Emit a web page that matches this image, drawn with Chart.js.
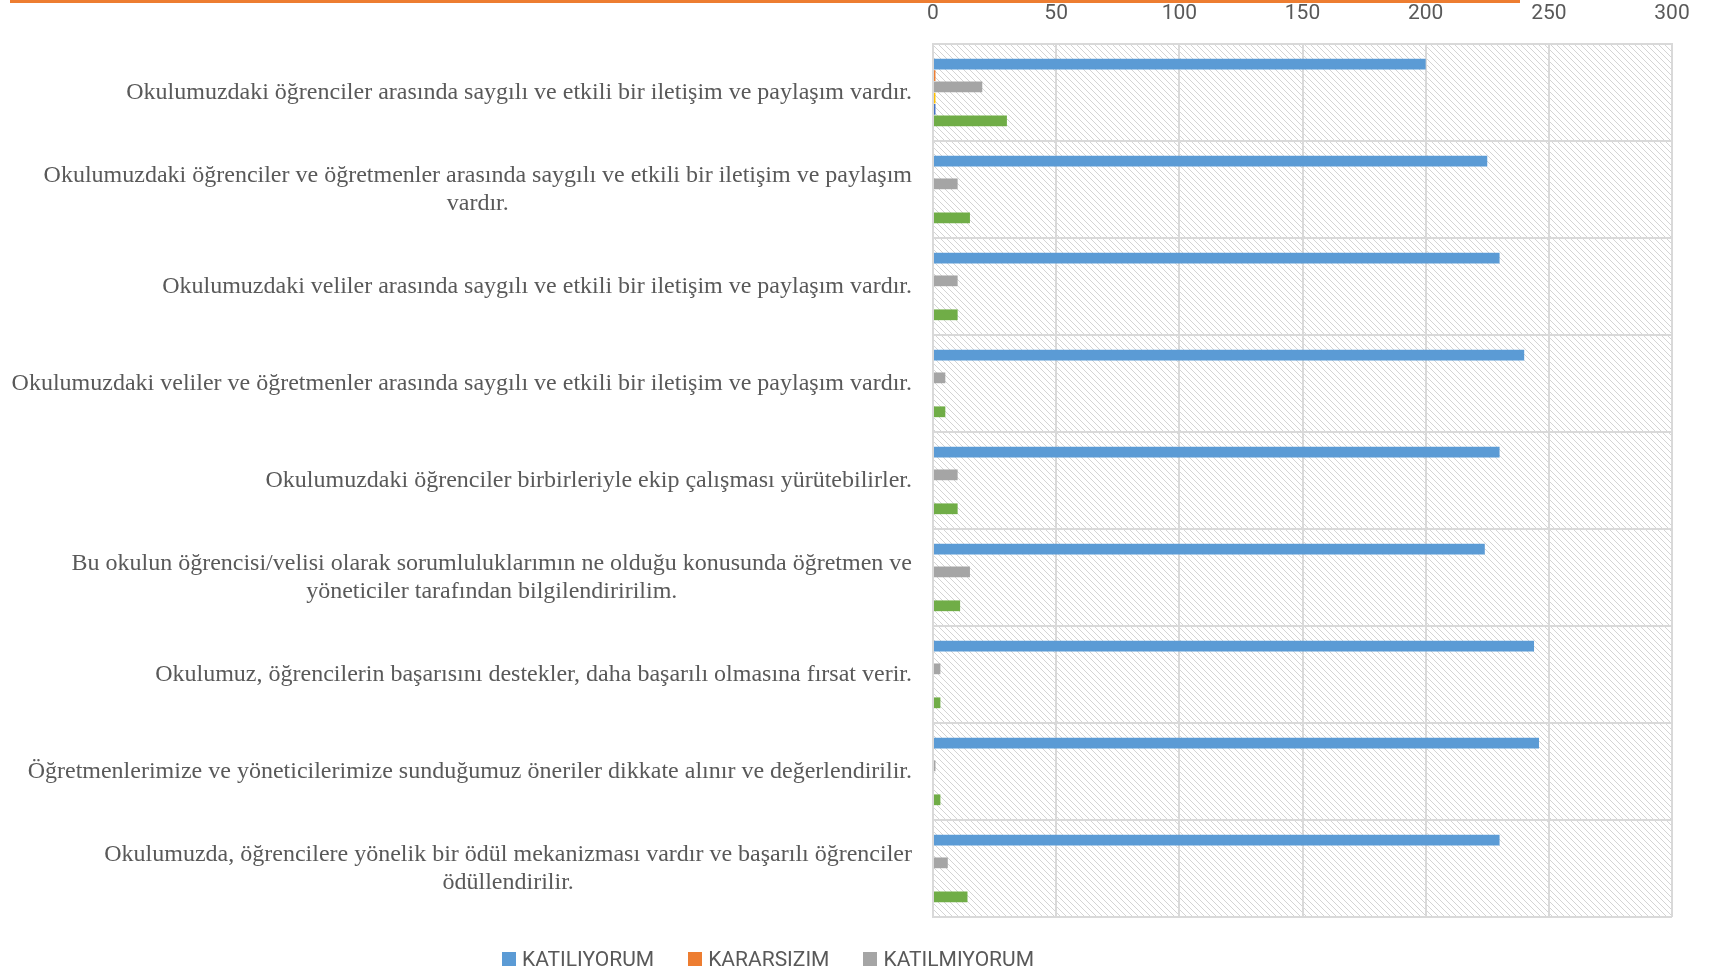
<!DOCTYPE html>
<html>
<head>
<meta charset="utf-8">
<script src="https://cdn.jsdelivr.net/npm/chart.js@4.4.1/dist/chart.umd.min.js"></script>
<style>
  html, body { margin: 0; padding: 0; background: #fff; }
  #wrap { position: relative; width: 1718px; height: 973px; }
  #topLine { position: absolute; left: 10px; top: 0; width: 1510px; height: 3px; background: #ED7D31; }
  #legend { position: absolute; left: 502px; top: 947px; display: flex; font-family: Roboto, sans-serif; font-size: 21px; color: #595959; }
  #legend .item { display: flex; align-items: center; margin-right: 34px; }
  #legend .box { width: 14px; height: 14px; margin-right: 6px; }
</style>
</head>
<body>
<div id="wrap">
  <canvas id="grafik" width="1718" height="973"></canvas>
  <div id="topLine"></div>
  <div id="legend"></div>
</div>
<script>
// maddeler (yukaridan asagiya)
const maddeler = [
  'Okulumuzdaki öğrenciler arasında saygılı ve etkili bir iletişim ve paylaşım vardır.',
  ['Okulumuzdaki öğrenciler ve öğretmenler arasında saygılı ve etkili bir iletişim ve paylaşım', 'vardır.'],
  'Okulumuzdaki veliler arasında saygılı ve etkili bir iletişim ve paylaşım vardır.',
  'Okulumuzdaki veliler ve öğretmenler arasında saygılı ve etkili bir iletişim ve paylaşım vardır.',
  'Okulumuzdaki öğrenciler birbirleriyle ekip çalışması yürütebilirler.',
  ['Bu okulun öğrencisi/velisi olarak sorumluluklarımın ne olduğu konusunda öğretmen ve', 'yöneticiler tarafından bilgilendiririlim.'],
  'Okulumuz, öğrencilerin başarısını destekler, daha başarılı olmasına fırsat verir.',
  'Öğretmenlerimize ve yöneticilerimize sunduğumuz öneriler dikkate alınır ve değerlendirilir.',
  ['Okulumuzda, öğrencilere yönelik bir ödül mekanizması vardır ve başarılı öğrenciler', 'ödüllendirilir.']
];

const katiliyorum   = [200, 225, 230, 240, 230, 224, 244, 246, 230];
const kararsizim    = [1, 0, 0, 0, 0, 0, 0, 0, 0];
const katilmiyorum  = [20, 10, 10, 5, 10, 15, 3, 1, 6];
const seri4         = [1, 0, 0, 0, 0, 0, 0, 0, 0];
const seri5         = [1, 0, 0, 0, 0, 0, 0, 0, 0];
const seri6         = [30, 15, 10, 5, 10, 11, 3, 3, 14];

const eksenMin = 0;
const eksenMax = 300;
const eksenAdim = 50;

const seriler = [
  { ad: 'KATILIYORUM',  veri: katiliyorum,  renk: '#5B9BD5', lejant: true },
  { ad: 'KARARSIZIM',   veri: kararsizim,   renk: '#ED7D31', lejant: true },
  { ad: 'KATILMIYORUM', veri: katilmiyorum, renk: '#A5A5A5', lejant: true },
  { ad: 'Seri 4',       veri: seri4,        renk: '#FFC000', lejant: false },
  { ad: 'Seri 5',       veri: seri5,        renk: '#4472C4', lejant: false },
  { ad: 'Seri 6',       veri: seri6,        renk: '#70AD47', lejant: false }
];

// lejant (html)
const lejantKutusu = document.getElementById('legend');
seriler.filter(s => s.lejant).forEach(s => {
  const el = document.createElement('div');
  el.className = 'item';
  el.innerHTML = '<span class="box" style="background:' + s.renk + '"></span><span>' + s.ad + '</span>';
  lejantKutusu.appendChild(el);
});

// tarali arka plan
function taramaDeseni(ctx) {
  const s = 6;
  const c = document.createElement('canvas');
  c.width = s; c.height = s;
  const g = c.getContext('2d');
  g.fillStyle = '#ffffff';
  g.fillRect(0, 0, s, s);
  g.strokeStyle = '#d4d4d4';
  g.lineWidth = 1;
  g.beginPath();
  g.moveTo(0, 0); g.lineTo(s, s);
  g.moveTo(-1, s - 1); g.lineTo(1, s + 1);
  g.moveTo(s - 1, -1); g.lineTo(s + 1, 1);
  g.stroke();
  return ctx.createPattern(c, 'repeat');
}

const arkaPlanPlugin = {
  id: 'arkaPlan',
  beforeDraw(chart) {
    const { ctx, chartArea: a } = chart;
    ctx.save();
    ctx.fillStyle = taramaDeseni(ctx);
    ctx.fillRect(a.left, a.top, a.right - a.left, a.bottom - a.top);
    ctx.restore();
  }
};

// kategori etiketleri: saga yasli, cok satirlilar kendi icinde ortali
const etiketPlugin = {
  id: 'etiketler',
  afterDraw(chart) {
    const { ctx, chartArea: a } = chart;
    const yScale = chart.scales.y;
    const sagKenar = a.left - 21;
    const satirYuksekligi = 28.5;
    ctx.save();
    ctx.font = '24px "Liberation Serif", "Times New Roman", serif';
    ctx.fillStyle = '#595959';
    ctx.textBaseline = 'middle';
    ctx.textAlign = 'center';
    maddeler.forEach((m, i) => {
      const satirlar = Array.isArray(m) ? m : [m];
      const genislik = Math.max(...satirlar.map(t => ctx.measureText(t).width));
      const cx = sagKenar - genislik / 2;
      const y0 = yScale.getPixelForValue(i) - (satirlar.length - 1) * satirYuksekligi / 2;
      satirlar.forEach((t, j) => ctx.fillText(t, cx, y0 + j * satirYuksekligi));
    });
    ctx.restore();
  }
};

const ctx = document.getElementById('grafik').getContext('2d');
new Chart(ctx, {
  type: 'bar',
  data: {
    labels: maddeler,
    datasets: seriler.map(s => ({
      label: s.ad,
      data: s.veri,
      backgroundColor: s.renk,
      borderWidth: 0,
      categoryPercentage: 0.7,
      barPercentage: 0.95
    }))
  },
  options: {
    indexAxis: 'y',
    responsive: false,
    animation: false,
    layout: { padding: { top: 0, right: 46, bottom: 56, left: 0 } },
    scales: {
      x: {
        position: 'top',
        min: eksenMin,
        max: eksenMax,
        afterFit: s => { s.height = 44; },
        ticks: {
          stepSize: eksenAdim,
          padding: 18,
          color: '#595959',
          font: { family: 'Roboto', size: 21 }
        },
        grid: { color: '#d9d9d9', lineWidth: 2, drawTicks: false },
        border: { color: '#d9d9d9', width: 2 }
      },
      y: {
        afterFit: s => { s.width = 933; },
        ticks: { display: false },
        grid: { color: '#d9d9d9', lineWidth: 2, drawTicks: false },
        border: { color: '#d9d9d9', width: 2 }
      }
    },
    plugins: {
      legend: { display: false },
      tooltip: { enabled: false }
    }
  },
  plugins: [arkaPlanPlugin, etiketPlugin]
});
</script>
</body>
</html>
